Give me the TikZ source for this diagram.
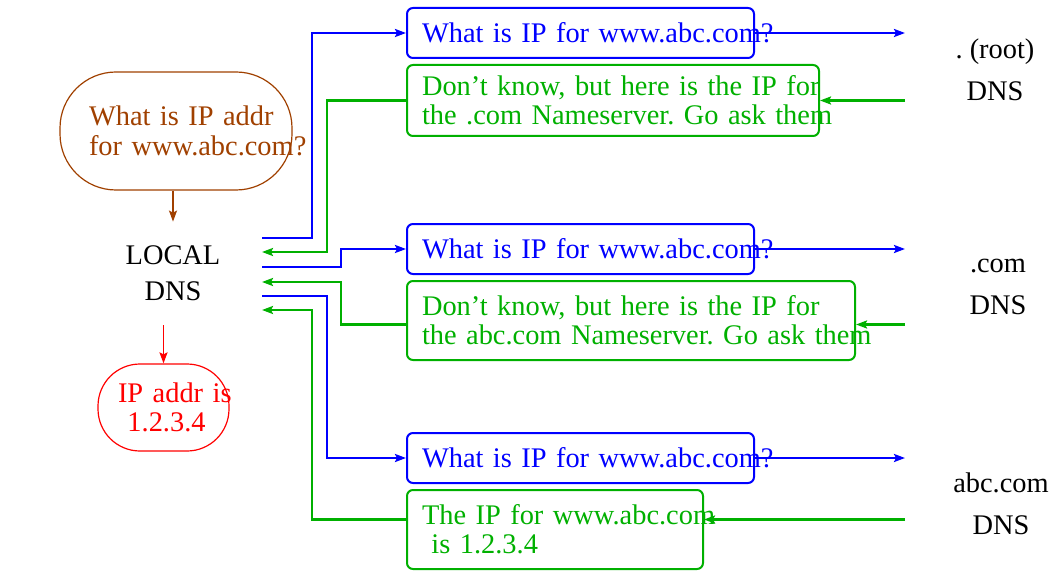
\documentclass[tikz,border=0pt]{standalone}
\usepackage{fontspec}
\setmainfont{Liberation Serif}
\usetikzlibrary{arrows.meta}
\frenchspacing

\definecolor{figblue}{RGB}{0,0,255}
\definecolor{figgreen}{RGB}{0,176,0}
\definecolor{figbrown}{RGB}{160,64,0}
\definecolor{figred}{RGB}{255,0,0}

\tikzset{
    txt/.style={font=\fontsize{14.2}{14.5}\selectfont, inner sep=0pt},
    msg/.style={txt, draw, line width=1pt, rounded corners=3pt,
        anchor=west, align=left, inner xsep=7.5pt},
    query/.style={msg, figblue, text width=158.5pt, minimum height=25pt},
    reply/.style={msg, figgreen},
    bubble/.style={txt, draw, line width=0.6pt, align=left},
    qline/.style={-{Stealth[length=5.5pt, width=4pt, inset=1pt]},
        line width=1.2pt, figblue},
    rline/.style={-{Stealth[length=5.5pt, width=4pt, inset=1pt]},
        line width=1.2pt, figgreen},
    darr/.style={-{Stealth[length=5.5pt, width=4pt, inset=1pt]},
        line width=0.8pt},
}

\begin{document}
\begin{tikzpicture}[x=0.5pt, y=-0.5pt]
    \useasboundingbox (0,0) rectangle (1053,572);

    % Resolver side
    \node[bubble, figbrown, rounded corners=28pt, text width=87pt,
        minimum height=59pt, inner xsep=14.5pt] (query) at (176,131)
        {\mbox{What is IP addr}\\[0.5pt]\mbox{for www.abc.com?}};
    \node[txt, align=center, minimum width=89pt, minimum height=51.5pt]
        (local) at (173,273.5) {LOCAL\\[3.5pt]DNS};
    \node[bubble, figred, rounded corners=21pt, text width=45.5pt,
        minimum height=43.5pt, inner xsep=10pt] (found) at (163.5,407.5)
        {\mbox{IP addr is}\\\mbox{\ 1.2.3.4}};

    \draw[darr, figbrown] (query.south -| local.north) -- (local.north);
    \draw[darr, figred] (local.south -| found.north) -- (found.north);

    % Name servers
    \node[txt, align=center] (root) at (995,70) {. (root)\\[6.5pt]DNS};
    \node[txt, align=center] (com) at (998,287) {.com\\[6.5pt]DNS};
    \node[txt, align=center] (abc) at (1001,503.5) {abc.com\\[6.5pt]DNS};
    \coordinate (srv) at (905,0);

    % Messages
    \node[query] (q1) at (406,33) {\mbox{What is IP for www.abc.com?}};
    \node[reply, text width=191pt, minimum height=35.5pt] (a1) at (406,100.5)
        {\mbox{Don't know, but here is the IP for}\\
         \mbox{the .com Nameserver. Go ask them}};
    \node[query] (q2) at (406,249) {\mbox{What is IP for www.abc.com?}};
    \node[reply, text width=209pt, minimum height=39.5pt] (a2) at (406,320.5)
        {\mbox{Don't know, but here is the IP for}\\
         \mbox{the abc.com Nameserver. Go ask them}};
    \node[query] (q3) at (406,458) {\mbox{What is IP for www.abc.com?}};
    \node[reply, text width=133pt, minimum height=39.5pt] (a3) at (406,529.5)
        {\mbox{The IP for www.abc.com}\\\mbox{\ is 1.2.3.4}};

    % Ports on the local resolver
    \coordinate (l1) at (262,238);
    \coordinate (l2) at (262,252);
    \coordinate (l3) at (262,267);
    \coordinate (l4) at (262,282);
    \coordinate (l5) at (262,296);
    \coordinate (l6) at (262,310);
    \coordinate (a2in) at ([yshift=-2pt]a2.east);
    \coordinate (a2out) at ([yshift=-2pt]a2.west);
    \coordinate (a3in) at ([yshift=5pt]a3.east);
    \coordinate (a3out) at ([yshift=5pt]a3.west);

    % Root round trip
    \draw[qline] (l1) -- ++(50,0) |- (q1.west);
    \draw[qline] (q1.east) -- (q1.east -| srv);
    \draw[rline] (a1.east -| srv) -- (a1.east);
    \draw[rline] (a1.west) -- ++(-79,0) |- (l2);

    % .com round trip
    \draw[qline] (l3) -- ++(79,0) |- (q2.west);
    \draw[qline] (q2.east) -- (q2.east -| srv);
    \draw[rline] (a2in -| srv) -- (a2in);
    \draw[rline] (a2out) -- ++(-65,0) |- (l4);

    % abc.com round trip
    \draw[qline] (l5) -- ++(65,0) |- (q3.west);
    \draw[qline] (q3.east) -- (q3.east -| srv);
    \draw[rline] (a3in -| srv) -- (a3in);
    \draw[rline] (a3out) -- ++(-94,0) |- (l6);
\end{tikzpicture}
\end{document}
